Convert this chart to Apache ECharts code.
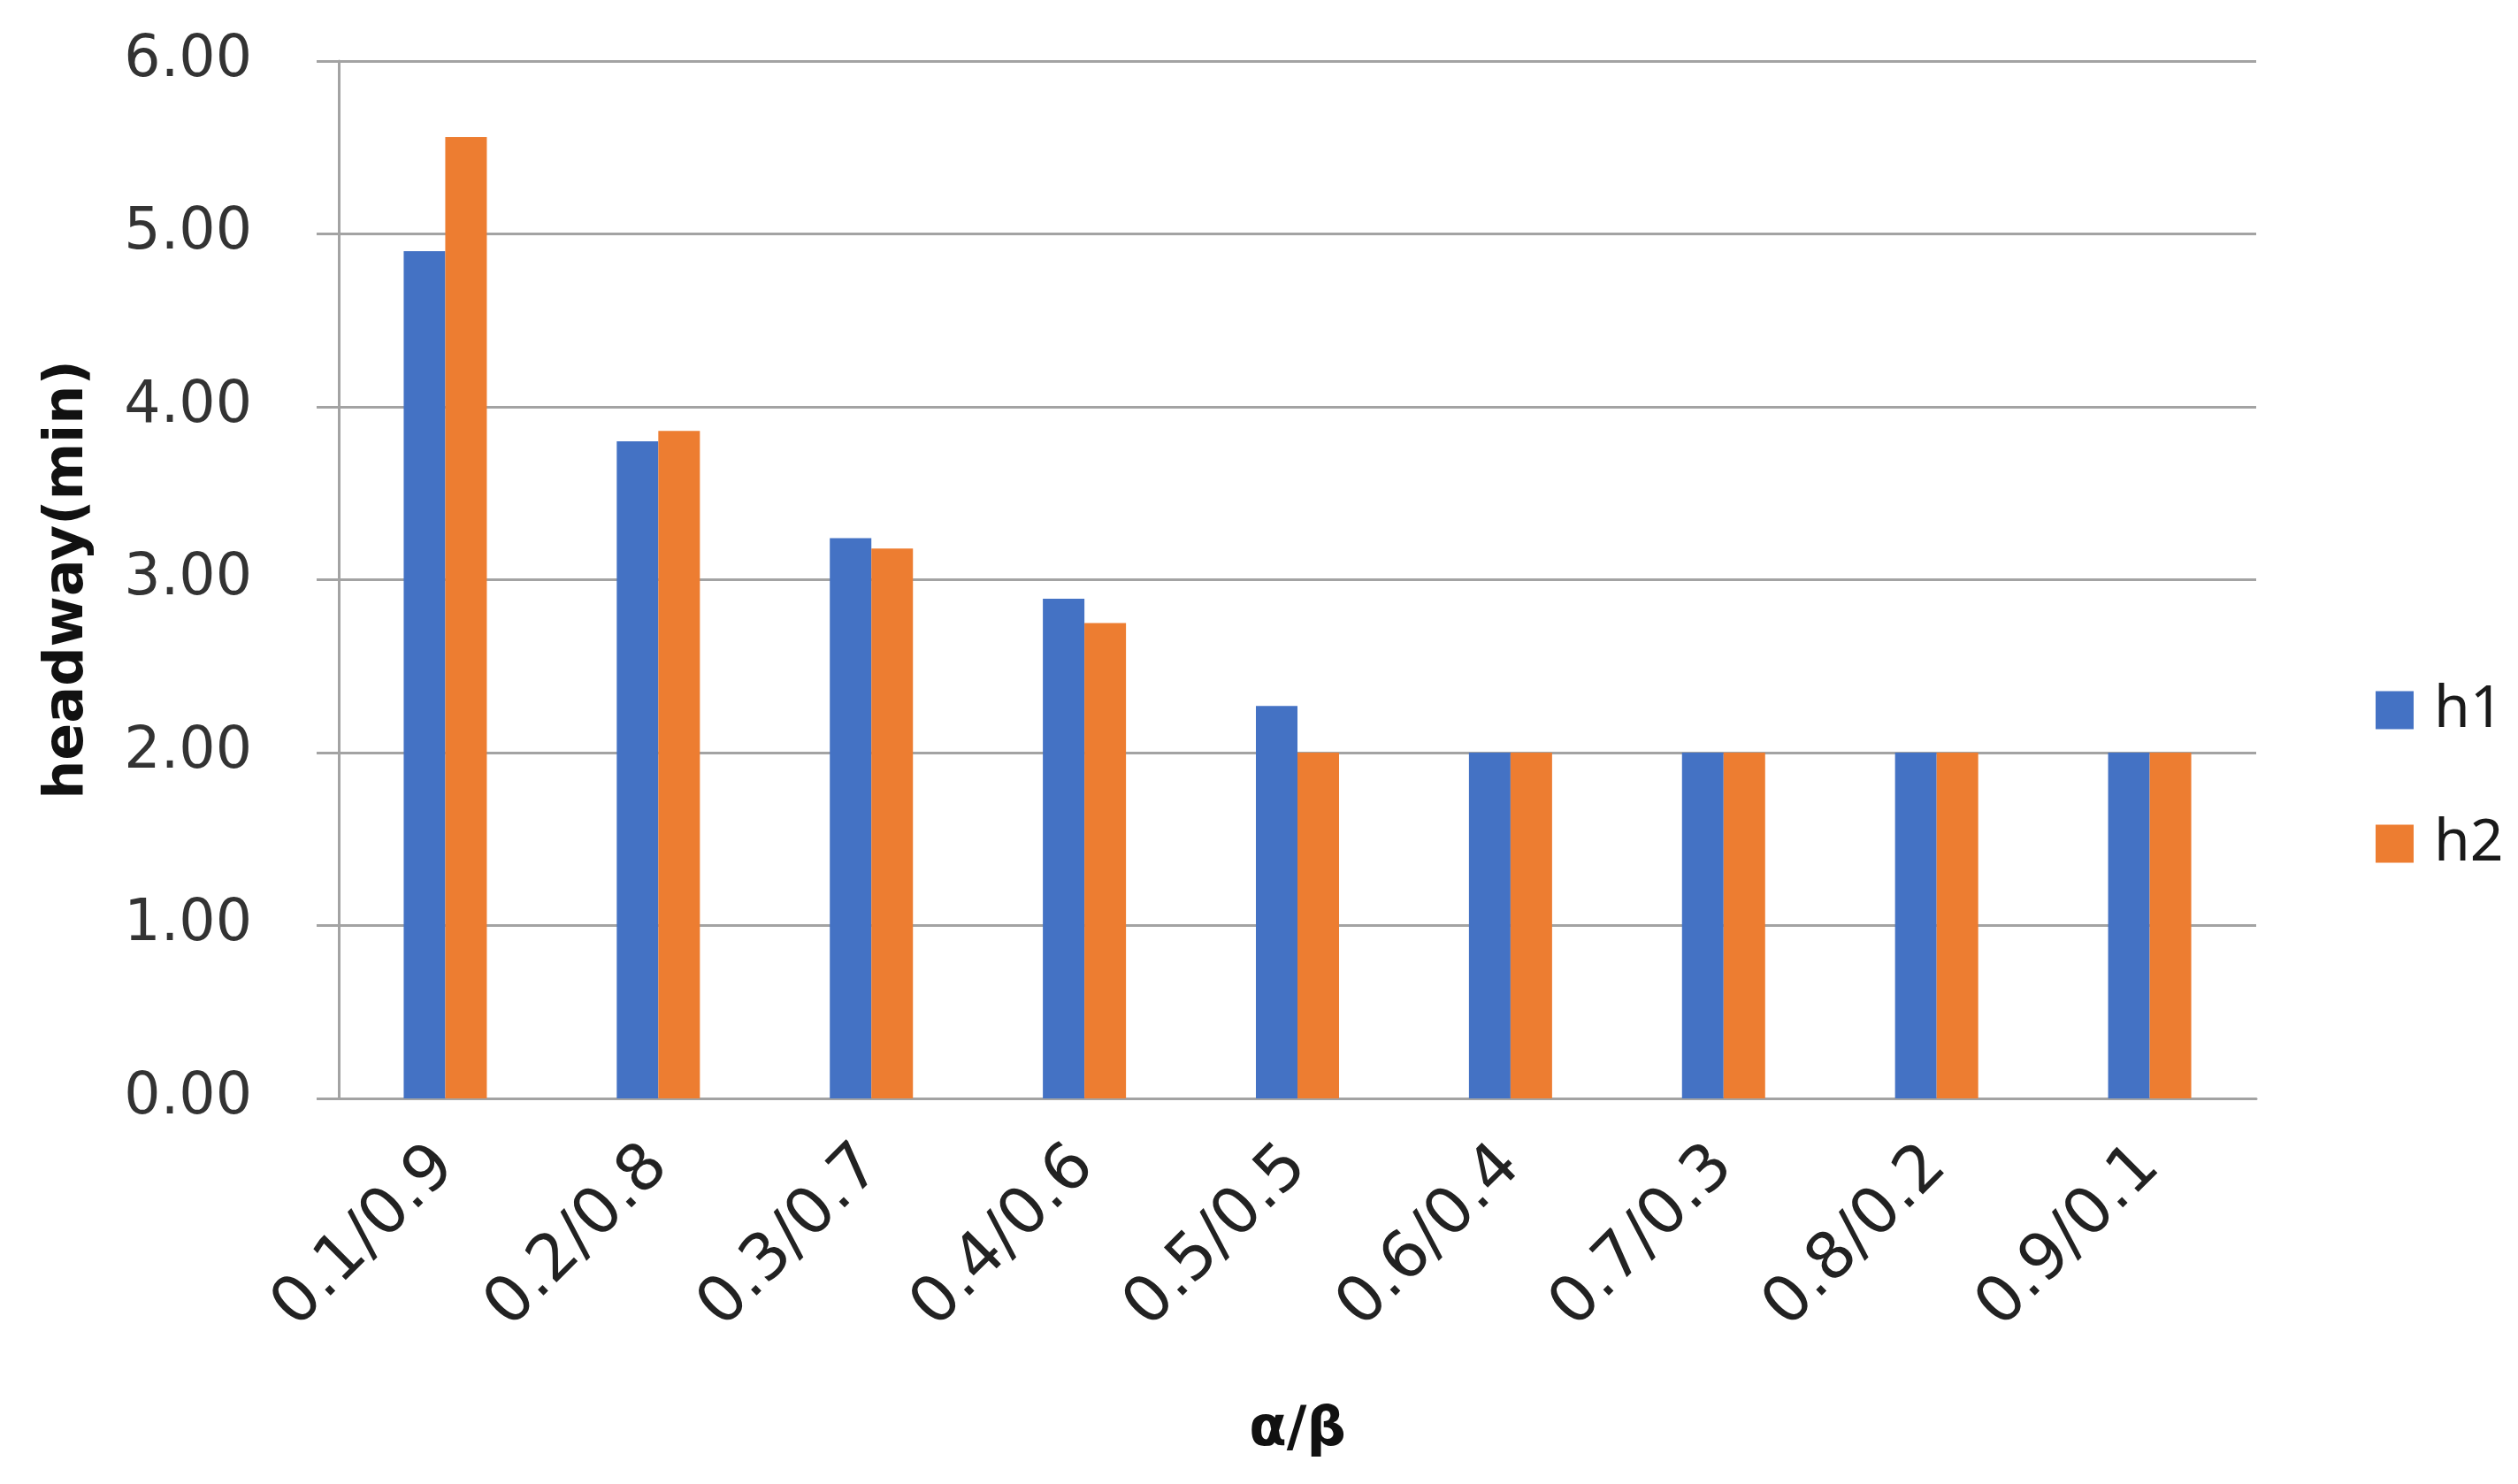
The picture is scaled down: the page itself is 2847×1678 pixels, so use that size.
<!DOCTYPE html>
<html>
<head>
<meta charset="utf-8">
<title>headway</title>
<script src="https://cdn.jsdelivr.net/npm/echarts@6/dist/echarts.min.js"></script>
<style>
	html,body{margin:0;padding:0;background:#fff;}
	#myChart{width:2847px;height:1678px;}
</style>
</head>
<body>
<div id="myChart"></div>
<script>
	// 数据
	var categories = ['0.1/0.9','0.2/0.8','0.3/0.7','0.4/0.6','0.5/0.5','0.6/0.4','0.7/0.3','0.8/0.2','0.9/0.1'];
	var h1 = [4.90, 3.80, 3.24, 2.89, 2.27, 2.00, 2.00, 2.00, 2.00];
	var h2 = [5.56, 3.86, 3.18, 2.75, 2.00, 2.00, 2.00, 2.00, 2.00];

	var gridColor = '#a3a3a3';
	var labelFont = 'DejaVu Sans';

	var myChart = echarts.init(document.getElementById('myChart'));
	myChart.setOption({
		animation: false,
		color: ['#4472c4', '#ed7d31'],
		grid: { left: 383, right: 296, top: 69, bottom: 436, containLabel: false },
		legend: {
			orient: 'vertical',
			left: 2681,
			top: 765,
			itemWidth: 43,
			itemHeight: 43,
			itemGap: 85,
			icon: 'rect',
			textStyle: { fontFamily: 'Noto Sans', fontSize: 66, color: '#1a1a1a', padding: [0, 0, 0, 18] },
			data: ['h1', 'h2']
		},
		xAxis: {
			type: 'category',
			data: categories,
			name: 'α/β',
			nameLocation: 'middle',
			nameGap: 345,
			nameTextStyle: { fontFamily: labelFont, fontWeight: 'bold', fontSize: 62, color: '#111' },
			axisLine: { lineStyle: { color: gridColor, width: 3 } },
			axisTick: { show: false },
			axisLabel: { rotate: 45, margin: 66, fontFamily: labelFont, fontSize: 73, color: '#222' }
		},
		yAxis: {
			type: 'value',
			min: 0,
			max: 6,
			interval: 1,
			name: 'headway(min)',
			nameLocation: 'middle',
			nameRotate: 90,
			nameGap: 275,
			nameTextStyle: { fontFamily: labelFont, fontWeight: 'bold', fontSize: 62, color: '#111' },
			axisLine: { show: true, lineStyle: { color: gridColor, width: 3 } },
			axisTick: { show: true, length: 25, lineStyle: { color: gridColor, width: 3 } },
			splitLine: { lineStyle: { color: gridColor, width: 3 } },
			axisLabel: {
				margin: 98,
				fontFamily: labelFont,
				fontSize: 65,
				color: '#333',
				formatter: function (v) { return v.toFixed(2); }
			}
		},
		series: [
			{ name: 'h1', type: 'bar', barWidth: 47, barGap: '0%', data: h1 },
			{ name: 'h2', type: 'bar', barWidth: 47, barGap: '0%', data: h2 }
		]
	});
</script>
</body>
</html>
